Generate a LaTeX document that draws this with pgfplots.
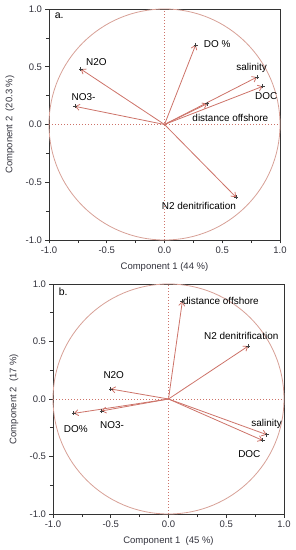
\documentclass[border=0pt]{standalone}
\usepackage{fontspec}
\setmainfont{Liberation Sans}
\usepackage{pgfplots}
\pgfplotsset{compat=1.18}
\usetikzlibrary{arrows.meta}
\definecolor{arr}{RGB}{205,115,105}
\definecolor{circ}{RGB}{215,160,150}
\definecolor{txt}{RGB}{50,50,60}
\newcommand{\fs}{\fontsize{9.5bp}{11bp}\selectfont}
\pgfplotsset{pca/.style={
  scale only axis, width=231bp, height=231bp,
  xmin=-1,xmax=1,ymin=-1,ymax=1,
  xtick={-1,-0.5,0,0.5,1}, ytick={-1,-0.5,0,0.5,1},
  minor tick num=1,
  tick pos=left, tick align=outside,
  major tick length=3.5bp, minor tick length=3bp,
  axis line style={draw=black!80, line width=0.9bp},
  every tick/.style={black!80, line width=0.7bp},
  /pgf/number format/fixed, /pgf/number format/fixed zerofill,
  /pgf/number format/precision=1, /pgf/number format/assume math mode=true,
  tick label style={font=\fs, text=txt},
  label style={font=\fs, text=txt},
  xlabel style={at={(axis description cs:0.5,-0.117)},anchor=center},
  ylabel style={at={(axis description cs:-0.169,0.5)},anchor=center},
  clip=false,
  every node/.append style={font=\fs, text=txt},
}}
\tikzset{vec/.style={arr, line width=0.8bp, -{Straight Barb[length=4bp,width=6bp]}},
  zl/.style={arr, line width=0.8bp, dash pattern=on 1bp off 2bp}}
\begin{document}
\begin{tikzpicture}
\useasboundingbox (0,0) rectangle (296bp,550bp);
% ---------- panel a
\begin{axis}[pca, at={(49bp,310bp)}, anchor=south west,
  xlabel={Component 1 (44 \%)}, ylabel={Component 2 \ (20.3 \%)}]
\draw[circ, line width=0.8bp] (axis cs:0,0) ellipse [x radius=1, y radius=1];
\draw[zl] (axis cs:-1,0) -- (axis cs:1,0);
\draw[zl] (axis cs:0,-1) -- (axis cs:0,1);
\addplot[vec] coordinates {(0,0) (0.27,0.69)};
\addplot[vec] coordinates {(0,0) (-0.725,0.48)};
\addplot[vec] coordinates {(0,0) (-0.775,0.157)};
\addplot[vec] coordinates {(0,0) (0.80,0.41)};
\addplot[vec] coordinates {(0,0) (0.85,0.33)};
\addplot[vec] coordinates {(0,0) (0.37,0.18)};
\addplot[vec] coordinates {(0,0) (0.62,-0.63)};
\addplot[only marks, mark=+, mark size=2bp, black!75, line width=0.6bp] coordinates {
  (0.27,0.69) (-0.725,0.48) (-0.775,0.157) (0.80,0.41) (0.85,0.33) (0.37,0.18) (0.62,-0.63)};
\node[anchor=west] at (axis cs:0.31,0.70) {DO \%};
\node at (axis cs:-0.59,0.54) {N2O};
\node at (axis cs:-0.70,0.238) {NO3-};
\node at (axis cs:0.754,0.49) {salinity};
\node at (axis cs:0.88,0.243) {DOC};
\node at (axis cs:0.57,0.058) {distance offshore};
\node at (axis cs:0.298,-0.704) {N2 denitrification};
\node[anchor=north west, font=\fontsize{10.5bp}{12bp}\selectfont] at (axis description cs:0.01,1.0) {a.};
\end{axis}
% ---------- panel b
\begin{axis}[pca, at={(53bp,36bp)}, anchor=south west, height=230bp,
  xlabel={Component 1 \ (45 \%)}, ylabel={Component 2 \ (17 \%)}]
\draw[circ, line width=0.8bp] (axis cs:0,0) ellipse [x radius=1, y radius=1];
\draw[zl] (axis cs:-1,0) -- (axis cs:1,0);
\draw[zl] (axis cs:0,-1) -- (axis cs:0,1);
\addplot[vec] coordinates {(0,0) (0.12,0.85)};
\addplot[vec] coordinates {(0,0) (0.69,0.46)};
\addplot[vec] coordinates {(0,0) (-0.50,0.087)};
\addplot[vec] coordinates {(0,0) (-0.58,-0.104)};
\addplot[vec] coordinates {(0,0) (-0.82,-0.125)};
\addplot[vec] coordinates {(0,0) (0.85,-0.31)};
\addplot[vec] coordinates {(0,0) (0.815,-0.36)};
\addplot[only marks, mark=+, mark size=2bp, black!75, line width=0.6bp] coordinates {
  (0.12,0.85) (0.69,0.46) (-0.50,0.087) (-0.58,-0.104) (-0.82,-0.125) (0.85,-0.31) (0.815,-0.36)};
\node at (axis cs:0.454,0.852) {distance offshore};
\node at (axis cs:0.63,0.548) {N2 denitrification};
\node at (axis cs:-0.474,0.209) {N2O};
\node at (axis cs:-0.803,-0.261) {DO\%};
\node at (axis cs:-0.488,-0.226) {NO3-};
\node at (axis cs:0.85,-0.214) {salinity};
\node at (axis cs:0.70,-0.478) {DOC};
\node[anchor=north west, font=\fontsize{10.5bp}{12bp}\selectfont] at (axis description cs:0.01,1.0) {b.};
\end{axis}
\end{tikzpicture}
\end{document}
